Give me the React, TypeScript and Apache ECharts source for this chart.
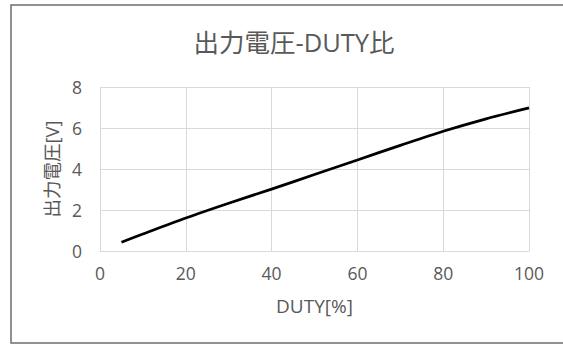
import React, { useEffect, useRef } from "react";
import * as echarts from "echarts";

const titleText = "出力電圧-DUTY比";
const xName = "DUTY[%]";
const yName = "出力電圧[V]";
const duty = [5, 10, 20, 30, 40, 50, 60, 70, 80, 90, 100];
const voltage = [0.43, 0.83, 1.61, 2.33, 3.02, 3.73, 4.44, 5.15, 5.84, 6.45, 6.98];

const FONT = '"Open Sans", "Noto Sans CJK JP", sans-serif';
const TXT = "#595959";
const GRID = "#d9d9d9";

export default function App() {
  const ref = useRef<HTMLDivElement>(null);
  useEffect(() => {
    if (!ref.current) return;
    const chart = echarts.init(ref.current, undefined, { renderer: "svg" });
    chart.setOption({
      animation: false,
      backgroundColor: "#ffffff",
      textStyle: { fontFamily: FONT },
      title: {
        text: titleText,
        left: 289,
        top: 24,
        textAlign: "center",
        textStyle: { fontFamily: FONT, fontSize: 25.5, fontWeight: "normal", color: TXT },
      },
      graphic: [
        {
          type: "rect",
          shape: { x: 11, y: 5, width: 600, height: 338 },
          style: { fill: "none", stroke: "#6e6e6e", lineWidth: 1.5 },
          silent: true,
        },
      ],
      grid: { left: 100, right: 34, top: 87, bottom: 94 },
      xAxis: {
        type: "value",
        min: 0,
        max: 100,
        interval: 20,
        name: xName,
        nameLocation: "middle",
        nameGap: 45,
        nameTextStyle: { fontFamily: FONT, fontSize: 19, color: TXT },
        axisLine: { show: true, lineStyle: { color: GRID, width: 1 } },
        axisTick: { show: false },
        axisLabel: { fontFamily: FONT, fontSize: 17.5, color: TXT, margin: 13 },
        splitLine: { show: true, lineStyle: { color: GRID, width: 1 } },
      },
      yAxis: {
        type: "value",
        min: 0,
        max: 8,
        interval: 2,
        name: yName,
        nameLocation: "middle",
        nameGap: 36,
        nameRotate: 90,
        nameTextStyle: { fontFamily: FONT, fontSize: 18.5, color: TXT },
        axisLine: { show: false },
        axisTick: { show: false },
        axisLabel: { fontFamily: FONT, fontSize: 17.5, color: TXT, margin: 18 },
        splitLine: { show: true, lineStyle: { color: GRID, width: 1 } },
      },
      series: [
        {
          type: "line",
          data: duty.map((d, i) => [d, voltage[i]]),
          smooth: 0.3,
          showSymbol: false,
          lineStyle: { color: "#000000", width: 2.8 },
        },
      ],
    });
    return () => chart.dispose();
  }, []);
  return (
    <div
      ref={ref}
      style={{ position: "absolute", left: 0, top: 0, width: 563, height: 345, background: "#fff" }}
    />
  );
}
